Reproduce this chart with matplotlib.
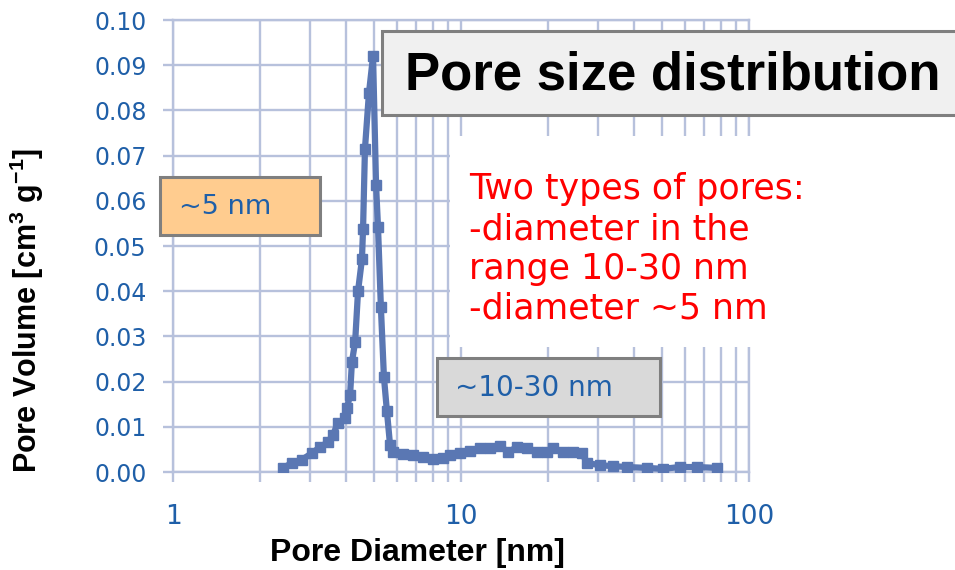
# -*- coding: utf-8 -*-
import matplotlib
matplotlib.use("Agg")
import matplotlib.pyplot as plt
from matplotlib.patches import Rectangle
from matplotlib.ticker import LogLocator, NullFormatter, FixedLocator
import numpy as np

#-------------------------------
#         pore size distribution data
#-------------------------------
diameter = [2.41, 2.59, 2.80, 3.04, 3.24, 3.45, 3.59, 3.74, 3.96, 4.02, 4.12,
            4.18, 4.29, 4.39, 4.53, 4.57, 4.64, 4.79, 4.95, 5.07, 5.15, 5.27,
            5.40, 5.53, 5.67, 5.80, 6.29, 6.81, 7.38, 7.99, 8.66, 9.16, 9.93,
            10.75, 11.64, 12.61, 13.65, 14.56, 15.64, 16.95, 18.35, 19.89,
            20.86, 22.59, 24.47, 26.30, 27.40, 30.38, 33.70, 37.70, 44.2,
            50.3, 57.5, 65.9, 77.4]
volume = [0.0009, 0.0020, 0.0027, 0.0042, 0.0055, 0.0066, 0.0082, 0.0108,
          0.0119, 0.0142, 0.0170, 0.0243, 0.0288, 0.0400, 0.0471, 0.0538,
          0.0715, 0.0838, 0.0920, 0.0635, 0.0542, 0.0365, 0.0210, 0.0135,
          0.0060, 0.0044, 0.0040, 0.0038, 0.0033, 0.0029, 0.0031, 0.0038,
          0.0042, 0.0046, 0.0053, 0.0053, 0.0058, 0.0044, 0.0055, 0.0053,
          0.0044, 0.0044, 0.0053, 0.0044, 0.0044, 0.0042, 0.0020, 0.0015,
          0.0013, 0.0011, 0.0009, 0.0007, 0.0011, 0.0011, 0.0009]

y_ticks = np.arange(0, 0.101, 0.01)
x_ticks = [1, 10, 100]

grid_col = '#b7c1dc'
line_col = '#5a77b3'
tick_col = '#1f5fa8'

plt.rcParams['mathtext.fontset'] = 'custom'
plt.rcParams['mathtext.bf'] = 'Liberation Sans:bold'
plt.rcParams['mathtext.rm'] = 'Liberation Sans:bold'

#-------------------------------
#         figure and axes
#-------------------------------
W, H = 955, 570
fig = plt.figure(figsize=(W / 100, H / 100), dpi=100)
ax = fig.add_axes([173 / W, 1 - 472 / H, (749 - 173) / W, (472 - 20) / H])

ax.plot(diameter, volume, '-', color=line_col, lw=4.5, marker='s',
        ms=6.5, mfc=line_col, mec=line_col, zorder=3)

ax.set_xscale('log')
ax.set_xlim(1, 100)
ax.set_ylim(0, 0.10)
ax.xaxis.set_major_locator(FixedLocator(x_ticks))
ax.xaxis.set_minor_locator(LogLocator(base=10, subs=np.arange(2, 10)))
ax.xaxis.set_minor_formatter(NullFormatter())
ax.set_xticklabels([str(v) for v in x_ticks])
ax.set_yticks(y_ticks)
ax.set_yticklabels(['%.2f' % v for v in y_ticks])

ax.set_axisbelow(True)
ax.grid(True, which='both', color=grid_col, lw=1.7)
for s in ax.spines.values():
    s.set_color(grid_col)
    s.set_linewidth(1.7)
ax.tick_params(axis='both', which='both', color=grid_col, width=1.7, length=7)
ax.tick_params(axis='x', labelsize=19, labelcolor=tick_col, pad=16)
ax.tick_params(axis='y', labelsize=17, labelcolor=tick_col, pad=12)

ax.set_xlabel('Pore Diameter [nm]', fontsize=23, fontweight='bold',
              family='Liberation Sans')
ax.xaxis.set_label_coords((417 - 173) / 576, -(538 - 472) / 452)
ax.set_ylabel(r'Pore Volume [cm$^{3}$ g$^{-1}$]', fontsize=22,
              fontweight='bold', family='Liberation Sans')
ax.yaxis.set_label_coords(-(173 - 46) / 576, (472 - 310) / 452)

#-------------------------------
#         annotation boxes
#-------------------------------
def fbox(x0, y0, x1, y1, fc, ec='#7f7f7f', lw=2.2):
    r = Rectangle((x0 / W, 1 - y1 / H), (x1 - x0) / W, (y1 - y0) / H,
                  transform=fig.transFigure, facecolor=fc, edgecolor=ec,
                  lw=lw, zorder=5)
    fig.add_artist(r)

# white area behind the red note
fbox(450, 136, 955, 347, 'white', ec='none', lw=0)
fig.text(469 / W, 1 - 249 / H,
         'Two types of pores:\n-diameter in the\nrange 10-30 nm\n-diameter ~5 nm',
         color='#ff0000', fontsize=25, va='center', ha='left',
         linespacing=1.22, zorder=6)

fbox(382, 31, 970, 115, '#f0f0f0')
fig.text(405 / W, 1 - 75 / H, 'Pore size distribution', fontsize=38,
         fontweight='bold', family='Liberation Sans', va='center',
         ha='left', zorder=6)

fbox(160, 177, 320, 235, '#ffcc8f')
fig.text(179 / W, 1 - 207 / H, '~5 nm', fontsize=19.5, color=tick_col,
         va='center', ha='left', zorder=6)

fbox(437, 358, 660, 416, '#d9d9d9')
fig.text(455 / W, 1 - 388 / H, '~10-30 nm', fontsize=20, color=tick_col,
         va='center', ha='left', zorder=6)

plt.savefig('out.png', dpi=100)
